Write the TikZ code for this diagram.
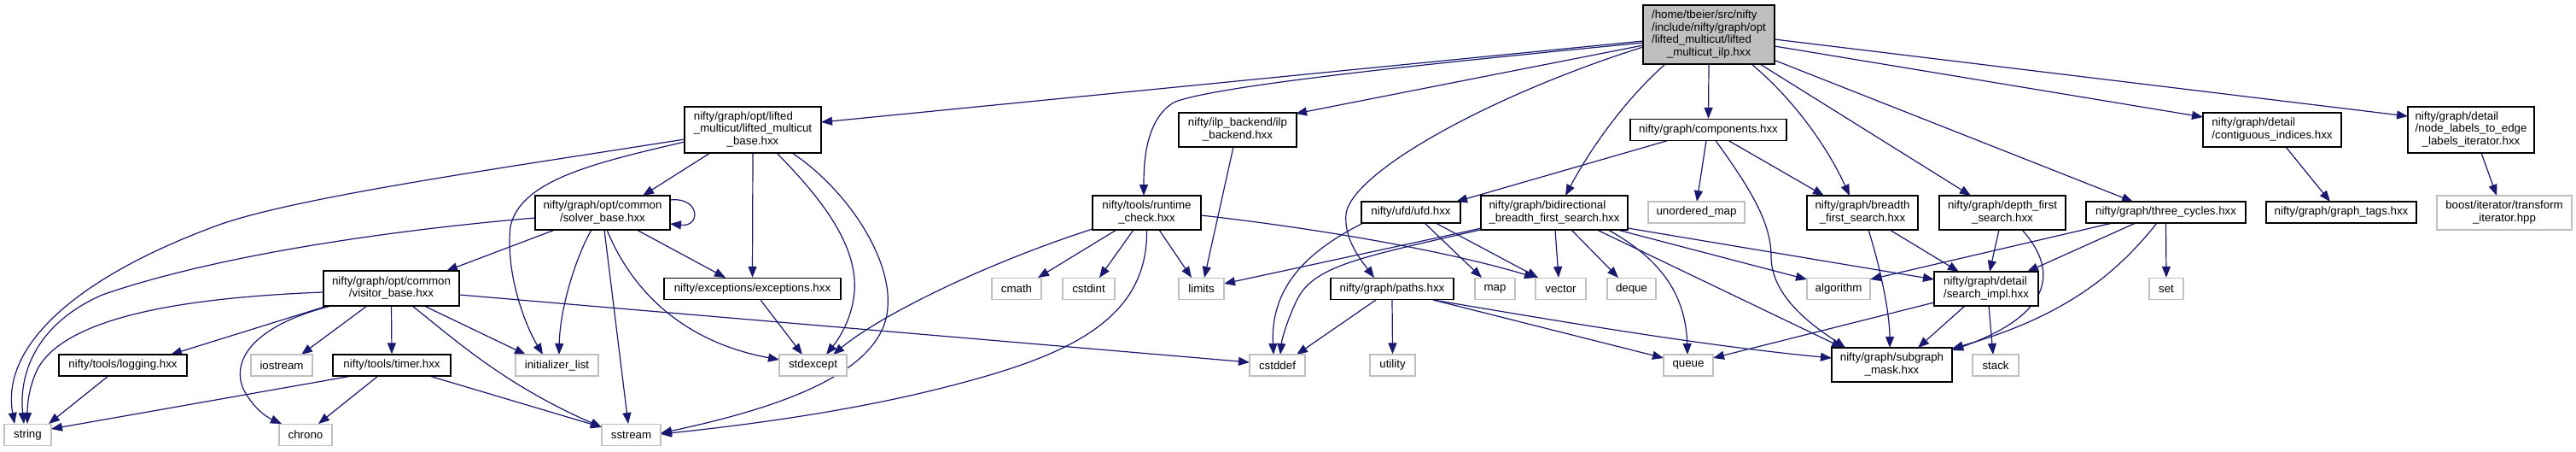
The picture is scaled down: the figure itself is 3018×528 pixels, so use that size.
\documentclass[tikz,border=0pt]{standalone}
\usepackage{fontspec}
\setmainfont{Liberation Sans}
\usetikzlibrary{arrows.meta}
\pgfdeclarelayer{edgelayer}
\pgfsetlayers{edgelayer,main}
\definecolor{edgec}{HTML}{191970}
\definecolor{greyc}{HTML}{BFBFBF}
\newcommand\nodefont{\fontsize{13.3}{14.5}\selectfont}
\newcommand\mlab[2]{\begin{tabular}{@{}l@{}}#1\\\multicolumn{1}{@{}c@{}}{#2}\end{tabular}}
\tikzset{
  nd/.style={draw=black, fill=white, line width=1.3pt, inner sep=0pt, font=\nodefont},
  sys/.style={nd, draw=greyc, minimum height=25},
  e/.style={draw=edgec, line width=1.2pt, -{Triangle[length=13pt,width=10pt]}},
}
\begin{document}
\begin{tikzpicture}[x=1pt,y=-1pt]
\useasboundingbox (0,0) rectangle (3018,528);
% nodes
\node[nd, fill=greyc, minimum width=154, minimum height=69] (root) at (2002,40.5) {\mlab{/home/tbeier/src/nifty\\/include/nifty/graph/opt\\/lifted\_multicut/lifted}{\_multicut\_ilp.hxx}};
\node[nd, minimum width=160, minimum height=54] (lmb) at (882,152) {\mlab{nifty/graph/opt/lifted\\\_multicut/lifted\_multicut}{\_base.hxx}};
\node[nd, minimum width=158, minimum height=40] (solver) at (706,249) {\mlab{nifty/graph/opt/common}{/solver\_base.hxx}};
\node[nd, minimum width=138, minimum height=40] (ilp) at (1450,152) {\mlab{nifty/ilp\_backend/ilp}{\_backend.hxx}};
\node[nd, minimum width=127, minimum height=40] (runtime) at (1343.5,249) {\mlab{nifty/tools/runtime}{\_check.hxx}};
\node[nd, minimum width=183, minimum height=25] (comp) at (2001.5,152) {nifty/graph/components.hxx};
\node[nd, minimum width=116, minimum height=25] (ufd) at (1653,248.5) {nifty/ufd/ufd.hxx};
\node[nd, minimum width=172, minimum height=40] (bidir) at (1821,249) {\mlab{nifty/graph/bidirectional}{\_breadth\_first\_search.hxx}};
\node[sys, minimum width=113] (umap) at (1987.5,248.5) {unordered\_map};
\node[nd, minimum width=130, minimum height=40] (bfs) at (2182,249) {\mlab{nifty/graph/breadth}{\_first\_search.hxx}};
\node[nd, minimum width=148, minimum height=40] (dfs) at (2346,249) {\mlab{nifty/graph/depth\_first}{\_search.hxx}};
\node[nd, minimum width=187, minimum height=25] (three) at (2537.5,248.5) {nifty/graph/three\_cycles.hxx};
\node[nd, minimum width=162, minimum height=40] (contig) at (2662,152) {\mlab{nifty/graph/detail}{/contiguous\_indices.hxx}};
\node[nd, minimum width=148, minimum height=54] (nlab) at (2895,152) {\mlab{nifty/graph/detail\\/node\_labels\_to\_edge}{\_labels\_iterator.hxx}};
\node[nd, minimum width=176, minimum height=25] (tags) at (2743,248.5) {nifty/graph/graph\_tags.hxx};
\node[sys, minimum width=158, minimum height=40] (boost) at (2934,249) {\mlab{boost/iterator/transform}{\_iterator.hpp}};
\node[sys, minimum width=40] (set) at (2538,338) {set};
\node[nd, minimum width=159, minimum height=41] (visitor) at (458.5,337.5) {\mlab{nifty/graph/opt/common}{/visitor\_base.hxx}};
\node[nd, minimum width=150, minimum height=25] (logging) at (144,427.5) {nifty/tools/logging.hxx};
\node[sys, minimum width=72] (iostream) at (330,427.5) {iostream};
\node[nd, minimum width=138, minimum height=25] (timer) at (459,427.5) {nifty/tools/timer.hxx};
\node[sys, minimum width=55] (string) at (32.5,509) {string};
\node[sys, minimum width=62] (chrono) at (358,509) {chrono};
\node[sys, minimum width=97] (initl) at (652.5,427.5) {initializer\_list};
\node[nd, minimum width=207, minimum height=25] (exc) at (881.5,338) {nifty/exceptions/exceptions.hxx};
\node[sys, minimum width=79] (stdexc) at (952.5,427.5) {stdexcept};
\node[sys, minimum width=69] (sstream) at (739.5,509) {sstream};
\node[sys, minimum width=58] (cmath) at (1191,338) {cmath};
\node[sys, minimum width=61] (cstdint) at (1275.5,338) {cstdint};
\node[sys, minimum width=53] (limits) at (1407.5,338) {limits};
\node[sys, minimum width=65] (cstddef) at (1496.5,427.5) {cstddef};
\node[nd, minimum width=144, minimum height=25] (paths) at (1631,338) {nifty/graph/paths.hxx};
\node[sys, minimum width=47] (map) at (1751.5,338) {map};
\node[sys, minimum width=59] (vector) at (1828.5,338) {vector};
\node[sys, minimum width=57] (deque) at (1911.5,338) {deque};
\node[sys, minimum width=53] (utility) at (1631.5,427.5) {utility};
\node[sys, minimum width=58] (queue) at (1978,427.5) {queue};
\node[sys, minimum width=74] (algo) at (2154,338) {algorithm};
\node[nd, minimum width=122, minimum height=40] (search) at (2327,338) {\mlab{nifty/graph/detail}{/search\_impl.hxx}};
\node[nd, minimum width=141, minimum height=40] (subg) at (2216.5,427) {\mlab{nifty/graph/subgraph}{\_mask.hxx}};
\node[sys, minimum width=54] (stack) at (2338,427.5) {stack};

\begin{pgfonlayer}{edgelayer}
% root
\draw[e] ([shift={(-77,7.5)}]root.center) -- ([shift={(80,-9)}]lmb.center);
\draw[e] ([shift={(-77,9.5)}]root.center) .. controls (1700,72) and (1420,100) .. (1375,120) .. controls (1342,140) and (1340,190) .. ([shift={(-3.5,-20)}]runtime.center);
\draw[e] ([shift={(-77,12.5)}]root.center) -- ([shift={(68,-19)}]ilp.center);
\draw[e] ([shift={(-77,14.5)}]root.center) .. controls (1750,110) and (1585,200) .. (1577,250) .. controls (1574,280) and (1595,305) .. ([shift={(-21,-13)}]paths.center);
\draw[e] ([shift={(-51,34.5)}]root.center) .. controls (1900,120) and (1860,180) .. ([shift={(13,-20)}]bidir.center);
\draw[e] (root.south) -- (comp.north);
\draw[e] ([shift={(50,34.5)}]root.center) .. controls (2100,115) and (2140,170) .. ([shift={(-15,-20)}]bfs.center);
\draw[e] ([shift={(60,34.5)}]root.center) -- ([shift={(-37,-20)}]dfs.center);
\draw[e] ([shift={(77,30)}]root.center) -- ([shift={(-38.5,-12.5)}]three.center);
\draw[e] ([shift={(77,13.5)}]root.center) -- ([shift={(-81,-15)}]contig.center);
\draw[e] ([shift={(77,5.5)}]root.center) -- ([shift={(-74,-16)}]nlab.center);
% lifted multicut base
\draw[e] ([shift={(-80,11)}]lmb.center) .. controls (600,195) and (350,230) .. (257,263) .. controls (100,320) and (0,400) .. ([shift={(-15.5,-13)}]string.center);
\draw[e] ([shift={(-80,14)}]lmb.center) .. controls (700,190) and (610,210) .. (598,265) .. controls (592,320) and (615,380) .. ([shift={(-16.5,-12.5)}]initl.center);
\draw[e] ([shift={(-50,27)}]lmb.center) -- ([shift={(47,-20)}]solver.center);
\draw[e] (lmb.south) -- (exc.north);
\draw[e] ([shift={(28,27)}]lmb.center) .. controls (960,230) and (1010,290) .. (1000,350) .. controls (995,380) and (980,400) .. ([shift={(15.5,-12.5)}]stdexc.center);
\draw[e] ([shift={(46,27)}]lmb.center) .. controls (990,220) and (1045,300) .. (1040,360) .. controls (1035,440) and (900,480) .. ([shift={(34.5,-2)}]sstream.center);
% solver base
\draw[e] ([shift={(79,-15)}]solver.center) .. controls (820,230) and (822,266) .. ([shift={(79,13)}]solver.center);
\draw[e] ([shift={(-56,20)}]solver.center) -- ([shift={(64.5,-20.5)}]visitor.center);
\draw[e] ([shift={(-79,6)}]solver.center) .. controls (450,270) and (250,300) .. (120,345) .. controls (40,380) and (22,440) .. ([shift={(-4.5,-13)}]string.center);
\draw[e] ([shift={(-13,20)}]solver.center) .. controls (675,300) and (656,360) .. ([shift={(2.5,-12.5)}]initl.center);
\draw[e] ([shift={(2,20)}]solver.center) -- ([shift={(-3.5,-13)}]sstream.center);
\draw[e] ([shift={(5,20)}]solver.center) .. controls (740,340) and (800,400) .. ([shift={(-39.5,-6.5)}]stdexc.center);
\draw[e] ([shift={(40,20)}]solver.center) -- ([shift={(-31.5,-13)}]exc.center);
% visitor base
\draw[e] ([shift={(-79.5,4.5)}]visitor.center) .. controls (220,348) and (80,370) .. (45,430) .. controls (32,455) and (32,480) .. ([shift={(-0.5,-13)}]string.center);
\draw[e] ([shift={(-75,20.5)}]visitor.center) -- ([shift={(56,-12.5)}]logging.center);
\draw[e] ([shift={(-70.5,20.5)}]visitor.center) .. controls (300,380) and (270,420) .. (285,455) .. controls (295,475) and (310,487) .. ([shift={(-28,-13)}]chrono.center);
\draw[e] ([shift={(-28.5,20.5)}]visitor.center) -- ([shift={(23,-12.5)}]iostream.center);
\draw[e] (visitor.south) -- (timer.north);
\draw[e] ([shift={(38.5,20.5)}]visitor.center) -- ([shift={(-36.5,-12.5)}]initl.center);
\draw[e] ([shift={(24.5,20.5)}]visitor.center) .. controls (530,395) and (590,450) .. ([shift={(-34.5,-9)}]sstream.center);
\draw[e] ([shift={(79.5,7.5)}]visitor.center) -- ([shift={(-32.5,-3.5)}]cstddef.center);
% timer, logging
\draw[e] ([shift={(-47,12.5)}]timer.center) -- ([shift={(27.5,-7)}]string.center);
\draw[e] ([shift={(-16,12.5)}]timer.center) -- ([shift={(15,-13)}]chrono.center);
\draw[e] ([shift={(44,12.5)}]timer.center) -- ([shift={(-34.5,-9)}]sstream.center);
\draw[e] ([shift={(-17,12.5)}]logging.center) -- ([shift={(24.5,-13)}]string.center);
% exceptions, ilp
\draw[e] ([shift={(9.5,13)}]exc.center) -- ([shift={(-12.5,-12.5)}]stdexc.center);
\draw[e] ([shift={(-5,20)}]ilp.center) -- ([shift={(3.5,-13)}]limits.center);
% runtime check
\draw[e] ([shift={(-63.5,19)}]runtime.center) .. controls (1150,310) and (1030,370) .. ([shift={(23.5,-12.5)}]stdexc.center);
\draw[e] ([shift={(-35.5,20)}]runtime.center) -- ([shift={(25,-13)}]cmath.center);
\draw[e] ([shift={(-15.5,20)}]runtime.center) -- ([shift={(12.5,-13)}]cstdint.center);
\draw[e] ([shift={(14.5,20)}]runtime.center) -- ([shift={(-11.5,-13)}]limits.center);
\draw[e] (runtime.south) .. controls (1345,380) and (1240,420) .. (1100,455) .. controls (980,485) and (850,500) .. ([shift={(34.5,-1)}]sstream.center);
\draw[e] ([shift={(63.5,3)}]runtime.center) .. controls (1550,268) and (1700,295) .. ([shift={(-29.5,-13)}]vector.center);
% components
\draw[e] ([shift={(-47.5,12.5)}]comp.center) -- ([shift={(53,-12.5)}]ufd.center);
\draw[e] ([shift={(-2.5,12.5)}]comp.center) -- ([shift={(0.5,-12.5)}]umap.center);
\draw[e] ([shift={(23.5,12.5)}]comp.center) -- ([shift={(-45,-20)}]bfs.center);
\draw[e] ([shift={(8.5,12.5)}]comp.center) .. controls (2050,220) and (2075,260) .. (2075,300) .. controls (2075,350) and (2130,385) .. ([shift={(-54.5,-20)}]subg.center);
% ufd
\draw[e] ([shift={(-56,12.5)}]ufd.center) .. controls (1540,290) and (1488,330) .. ([shift={(-4.5,-12.5)}]cstddef.center);
\draw[e] ([shift={(16,12.5)}]ufd.center) -- ([shift={(-15.5,-13)}]map.center);
\draw[e] ([shift={(29,12.5)}]ufd.center) -- ([shift={(-26.5,-13)}]vector.center);
% bidirectional
\draw[e] ([shift={(-85,18)}]bidir.center) -- ([shift={(26.5,-6)}]limits.center);
\draw[e] ([shift={(-85,19.5)}]bidir.center) .. controls (1600,300) and (1540,310) .. (1520,350) .. controls (1510,370) and (1502,395) .. ([shift={(3.5,-12.5)}]cstddef.center);
\draw[e] ([shift={(1,20)}]bidir.center) -- ([shift={(-2.5,-13)}]vector.center);
\draw[e] ([shift={(20,20)}]bidir.center) -- ([shift={(-15.5,-13)}]deque.center);
\draw[e] ([shift={(63,20)}]bidir.center) .. controls (1940,300) and (1975,340) .. ([shift={(-1,-12.5)}]queue.center);
\draw[e] ([shift={(74,20)}]bidir.center) -- ([shift={(-37,-11)}]algo.center);
\draw[e] ([shift={(86,18)}]bidir.center) -- ([shift={(-61,-11)}]search.center);
\draw[e] ([shift={(50,20)}]bidir.center) -- ([shift={(-57.5,-20)}]subg.center);
% paths
\draw[e] ([shift={(-19,13)}]paths.center) -- ([shift={(22.5,-12.5)}]cstddef.center);
\draw[e] (paths.south) -- (utility.north);
\draw[e] ([shift={(48,13)}]paths.center) -- ([shift={(-29,-8.5)}]queue.center);
\draw[e] ([shift={(48,13)}]paths.center) .. controls (1850,380) and (2000,405) .. ([shift={(-70.5,-8)}]subg.center);
% breadth / depth first search
\draw[e] ([shift={(7,20)}]bfs.center) .. controls (2205,320) and (2214,370) .. ([shift={(-2.5,-20)}]subg.center);
\draw[e] ([shift={(32,20)}]bfs.center) -- ([shift={(-32,-20)}]search.center);
\draw[e] ([shift={(-4,20)}]dfs.center) -- ([shift={(4,-20)}]search.center);
\draw[e] ([shift={(23,20)}]dfs.center) .. controls (2415,320) and (2400,370) .. ([shift={(70.5,-17)}]subg.center);
% three cycles
\draw[e] ([shift={(-62.5,12.5)}]three.center) -- ([shift={(37,-11)}]algo.center);
\draw[e] ([shift={(-35.5,12.5)}]three.center) -- ([shift={(48,-20)}]search.center);
\draw[e] ([shift={(-10.5,12.5)}]three.center) .. controls (2480,320) and (2420,370) .. ([shift={(70.5,-19)}]subg.center);
\draw[e] (three.south) -- (set.north);
% search impl
\draw[e] ([shift={(-61,16)}]search.center) -- ([shift={(29,-8.5)}]queue.center);
\draw[e] ([shift={(-25,20)}]search.center) -- ([shift={(30.5,-20)}]subg.center);
\draw[e] ([shift={(3,20)}]search.center) -- ([shift={(-3,-12.5)}]stack.center);
% detail
\draw[e] ([shift={(16,20)}]contig.center) -- ([shift={(-13,-12.5)}]tags.center);
\draw[e] ([shift={(12,27)}]nlab.center) -- ([shift={(-9,-20)}]boost.center);
\end{pgfonlayer}
\end{tikzpicture}
\end{document}
